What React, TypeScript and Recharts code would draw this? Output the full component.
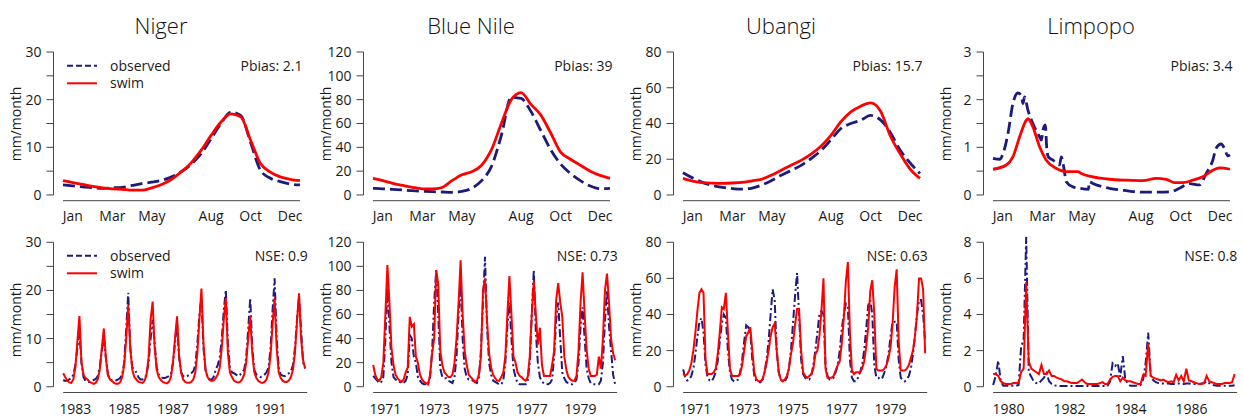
import React from "react";
import { LineChart, Line, XAxis, YAxis, ReferenceLine } from "recharts";

const OBS = "#1b1b7d";
const SWIM = "#ff0000";
const AXIS = "#444";
const TEXT = "#1a1a1a";
const FONT = "'Open Sans', 'Noto Sans', sans-serif";
const FS = 14;

const basins = ["Niger", "Blue Nile", "Ubangi", "Limpopo"];
const pbias = ["2.1", "39", "15.7", "3.4"];
const nse = ["0.9", "0.73", "0.63", "0.8"];
const startYears = [1983, 1971, 1971, 1980];
const labelYears = [
  [1983, 1985, 1987, 1989, 1991],
  [1971, 1973, 1975, 1977, 1979],
  [1971, 1973, 1975, 1977, 1979],
  [1980, 1982, 1984, 1986],
];
const yMaxTop = [30, 120, 80, 3];
const yMaxBottom = [30, 120, 80, 8];
const yStepTop = [5, 20, 20, 0.5];
const yStepBottom = [5, 20, 20, 2];
const yLabelEveryTop = [10, 20, 20, 1];
const yLabelEveryBottom = [10, 20, 20, 2];

// month axis of the climatology panels
const monthNames = ["Jan", "Mar", "May", "Aug", "Oct", "Dec"];
const monthNameIdx = [0, 2, 4, 7, 9, 11];
const halfMonths = [0, 0.5, 1, 1.5, 2, 2.5, 3, 3.5, 4, 4.5, 5, 5.5, 6, 6.5, 7, 7.5, 8, 8.5, 9, 9.5, 10, 10.5, 11, 11.5, 12];

// mean seasonal cycle (mm/month)
const nigerClimObs = [2.1, 1.9, 1.7, 1.5, 1.4, 1.5, 1.6, 2.0, 2.4, 2.7, 3.1, 3.8, 4.9, 6.5, 8.7, 11.8, 15.0, 17.4, 16.7, 11.0, 5.2, 3.5, 2.8, 2.3, 2.1];
const nigerClimSwim = [3.0, 2.6, 2.2, 1.8, 1.5, 1.3, 1.2, 1.0, 1.0, 1.5, 2.2, 3.3, 4.9, 6.8, 9.4, 12.5, 15.3, 17.0, 16.4, 11.5, 6.6, 4.8, 3.8, 3.3, 3.0];
const nileClimObs = [5.6, 5.2, 4.7, 4.2, 3.6, 3.2, 2.8, 2.5, 2.2, 3.0, 5.6, 12, 24, 50, 82, 81, 70, 54, 38, 26, 18, 12, 7.5, 5.3, 5.6];
const nileClimSwim = [14, 12, 9.8, 8, 6.4, 5.2, 5, 6.3, 12, 17, 19.5, 25, 38, 60, 80, 86, 76, 67, 52, 36, 30, 25, 20, 16.5, 14];
const ubangiClimObs = [12.5, 9.5, 6.9, 5.3, 4.3, 3.6, 3.3, 3.9, 5.6, 8.2, 11.2, 13.8, 16.7, 20.5, 25, 31, 37.2, 40, 41.8, 44.5, 42, 35, 25, 18, 12];
const ubangiClimSwim = [9.3, 7.8, 6.9, 6.6, 6.5, 6.7, 7.1, 7.9, 8.9, 11.2, 14, 16.8, 19.5, 23, 27.4, 33.5, 41, 46.5, 49.7, 51.5, 47, 33, 23, 14.5, 9.3];
const limpopoClimObsX = [0, 0.34, 0.51, 0.76, 1.01, 1.26, 1.43, 1.52, 1.6, 1.77, 2.02, 2.36, 2.45, 2.53, 2.65, 2.72, 2.8, 3.04, 3.37, 3.46, 3.58, 3.71, 4.05, 4.4, 4.84, 4.87, 5.06, 5.9, 6.75, 7.59, 8.43, 9.02, 9.44, 9.95, 10.46, 10.79, 11.13, 11.3, 11.55, 11.72, 11.89, 12];
const limpopoClimObs = [0.77, 0.75, 0.87, 1.29, 1.92, 2.14, 2.09, 1.92, 2.06, 1.78, 1.5, 1.22, 1.15, 1.36, 1.47, 1.0, 0.8, 0.73, 0.63, 0.8, 0.59, 0.28, 0.17, 0.14, 0.12, 0.28, 0.24, 0.14, 0.09, 0.06, 0.06, 0.07, 0.14, 0.24, 0.21, 0.45, 0.73, 0.98, 1.07, 0.98, 0.82, 0.84];
const limpopoClimSwimX = [0, 0.67, 1.01, 1.35, 1.69, 1.77, 2.02, 2.36, 2.7, 3.2, 3.71, 4.3, 4.47, 5.06, 5.9, 6.75, 7.59, 8.26, 8.77, 9.19, 9.61, 10.12, 10.62, 11.13, 11.47, 12];
const limpopoClimSwim = [0.54, 0.63, 0.8, 1.22, 1.57, 1.6, 1.43, 1.01, 0.73, 0.56, 0.49, 0.49, 0.45, 0.38, 0.33, 0.31, 0.3, 0.35, 0.33, 0.26, 0.26, 0.31, 0.38, 0.52, 0.57, 0.54];

// monthly series (mm/month), Jan..Dec per row
const nigerObs = [
  1.4, 1.2, 1.3, 1.5, 1.8, 2.5, 4.5, 8.0, 11.2, 5.0, 2.0, 1.2,
  1.0, 1.0, 1.2, 1.4, 1.6, 2.2, 4.0, 7.5, 10.4, 6.0, 2.5, 1.5,
  1.3, 1.2, 1.3, 1.5, 1.8, 2.5, 5.0, 12.0, 19.5, 8.0, 4.0, 3.5,
  3.0, 2.0, 1.5, 1.5, 1.8, 2.5, 5.0, 10.0, 13.9, 9.0, 4.0, 2.5,
  2.0, 1.8, 1.8, 2.0, 2.2, 2.6, 5.0, 9.0, 13.5, 6.0, 3.0, 2.2,
  2.0, 2.2, 2.5, 2.8, 3.2, 4.5, 9.0, 15.0, 18.6, 8.0, 3.5, 2.0,
  1.5, 1.5, 2.0, 3.5, 4.5, 6.0, 10.0, 16.0, 20.1, 9.0, 4.0, 3.0,
  2.8, 2.5, 2.2, 2.5, 3.0, 3.5, 6.0, 12.0, 18.4, 8.0, 3.5, 2.5,
  2.2, 2.0, 2.2, 2.5, 3.0, 4.0, 8.0, 16.0, 22.5, 10.0, 4.0, 2.5,
  2.3, 2.2, 2.5, 2.8, 3.2, 4.5, 8.0, 14.0, 18.6, 12.0, 5.0, 3.8,
];
const nigerSwim = [
  2.8, 2.0, 1.3, 0.9, 0.8, 1.5, 4.0, 9.5, 14.7, 5.0, 2.5, 1.8,
  1.5, 1.0, 0.8, 0.6, 0.8, 1.5, 3.5, 8.0, 12.1, 6.0, 2.5, 1.5,
  1.2, 0.8, 0.6, 0.6, 0.9, 2.0, 4.5, 10.0, 17.0, 8.0, 3.5, 2.0,
  1.5, 1.0, 0.9, 0.8, 1.2, 2.5, 6.0, 14.0, 17.7, 8.0, 3.5, 2.0,
  1.4, 1.0, 0.8, 0.7, 1.0, 2.0, 5.0, 10.0, 14.6, 6.5, 3.0, 1.5,
  1.0, 0.8, 0.8, 1.0, 1.5, 3.0, 7.0, 14.0, 20.4, 9.0, 3.5, 2.0,
  1.4, 1.2, 1.3, 1.8, 2.5, 4.0, 8.0, 14.0, 18.4, 7.0, 3.0, 2.0,
  1.3, 1.0, 0.9, 1.0, 1.5, 2.5, 5.0, 10.0, 14.7, 7.0, 3.0, 1.8,
  1.2, 0.9, 0.8, 1.0, 1.5, 3.0, 6.5, 13.0, 18.4, 8.0, 3.0, 1.8,
  1.2, 1.0, 1.0, 1.3, 2.0, 3.5, 7.0, 13.5, 19.4, 10.0, 5.5, 3.8,
];
const nileObs = [
  9, 7, 5, 3, 4, 8, 40, 82, 50, 20, 8, 6,
  5, 4, 3, 3, 5, 10, 43, 40, 25, 20, 8, 5,
  3, 2, 2, 2, 8, 30, 70, 97, 60, 15, 8, 7,
  7, 5, 4, 3, 8, 25, 60, 87, 40, 15, 8, 6,
  6, 5, 4, 3, 8, 30, 70, 108, 50, 20, 10, 5,
  4, 3, 2, 2, 5, 20, 50, 70, 40, 15, 8, 3,
  2, 2, 2, 2, 5, 20, 60, 97, 45, 20, 8, 4,
  3, 2, 2, 3, 6, 25, 55, 70, 40, 12, 7, 4,
  3, 2, 2, 3, 6, 20, 50, 66, 40, 15, 7, 3,
  2, 2, 2, 2, 5, 20, 55, 80, 50, 30, 10, 2,
];
const nileSwim = [
  18, 10, 6, 5, 8, 20, 60, 101, 70, 32, 18, 10,
  7, 5, 4, 6, 12, 16, 58, 50, 52, 25, 20, 10,
  6, 4, 3, 2, 10, 28, 40, 97, 85, 30, 18, 12,
  10, 8, 8, 10, 20, 40, 70, 105, 60, 30, 18, 10,
  8, 6, 4, 5, 10, 25, 80, 90, 55, 28, 16, 10,
  7, 5, 5, 8, 12, 25, 60, 92, 60, 25, 20, 12,
  9, 8, 6, 5, 8, 25, 60, 88, 60, 35, 49, 18,
  9, 9, 9, 9, 18, 30, 72, 86, 70, 58, 25, 14,
  8, 6, 5, 5, 9, 30, 70, 95, 60, 30, 15, 9,
  9, 9, 10, 25, 15, 40, 80, 94, 70, 40, 28, 22,
];
const ubangiObs = [
  9.6, 5, 3.5, 4, 6, 10, 18, 28, 36, 38, 30, 12,
  5, 3.5, 3, 5, 8, 14, 25, 35, 40, 38, 20, 8,
  4, 3, 3, 4, 8, 15, 25, 34, 33, 30, 15, 6,
  3, 2.5, 2.5, 4, 8, 15, 25, 40, 54, 48, 20, 8,
  4, 3, 3, 5, 10, 20, 35, 50, 63, 40, 15, 7,
  5, 4, 4, 6, 12, 20, 30, 40, 42, 40, 12, 6,
  4, 4, 5, 8, 12, 20, 32, 40, 46, 44, 15, 5,
  3, 3, 5, 8, 12, 20, 32, 45, 48, 40, 12, 5,
  5, 4, 5, 8, 12, 18, 28, 36, 36, 36, 15, 5,
  4, 3, 4, 6, 10, 18, 28, 40, 48, 48, 40, 25,
];
const ubangiSwim = [
  7.4, 6, 7, 9, 13, 20, 30, 42, 52, 54, 52, 15,
  7, 7, 7, 8, 10, 18, 30, 44, 43, 52, 30, 10,
  6, 6, 6, 6, 7, 12, 20, 28, 30, 33, 20, 8,
  4, 3, 3, 4, 8, 13, 20, 28, 33, 35, 20, 8,
  4, 3, 4, 6, 10, 18, 24, 34, 43, 43, 20, 8,
  6, 5, 6, 7, 10, 18, 20, 28, 42, 60, 10, 5,
  5, 5, 6, 9, 12, 14, 24, 38, 58, 69, 30, 9,
  7, 8, 8, 8, 10, 14, 22, 33, 53, 59, 40, 10,
  9, 9, 9, 10, 12, 16, 22, 35, 55, 65, 25, 9,
  9, 9, 10, 12, 16, 20, 28, 40, 60, 60, 54, 18.5,
];
const limpopoObs = [
  0.1, 0.6, 1.45, 0.3, 0.05, 0.05, 0.05, 0.05, 0.05, 0.05, 0.1, 2.2,
  2.6, 8.3, 0.8, 0.55, 0.28, 0.2, 0.18, 0.35, 0.5, 0.75, 0.3, 0.15,
  0.08, 0.05, 0.04, 0.04, 0.04, 0.04, 0.04, 0.04, 0.04, 0.04, 0.04, 0.04,
  0.04, 0.04, 0.04, 0.04, 0.04, 0.04, 0.04, 0.04, 0.04, 0.05, 0.3, 1.3,
  1.15, 1.3, 0.55, 1.7, 0.4, 0.15, 0.05, 0.05, 0.05, 0.05, 0.1, 0.4,
  1.3, 3.0, 0.6, 0.35, 0.25, 0.2, 0.18, 0.18, 0.18, 0.18, 0.15, 0.15,
  0.18, 0.18, 0.15, 0.15, 0.18, 0.18, 0.15, 0.15, 0.15, 0.15, 0.18, 0.2,
  0.3, 0.2, 0.1, 0.08, 0.06, 0.05, 0.05, 0.05, 0.05, 0.05, 0.05, 0.08,
];
const limpopoSwim = [
  0.7, 0.7, 0.6, 0.3, 0.2, 0.15, 0.15, 0.15, 0.2, 0.2, 0.2, 0.8,
  1.0, 5.8, 1.4, 1.0, 0.9, 0.8, 0.7, 1.2, 0.7, 0.7, 0.9, 0.6,
  0.6, 0.5, 0.45, 0.4, 0.3, 0.3, 0.25, 0.2, 0.2, 0.2, 0.3, 0.4,
  0.25, 0.15, 0.15, 0.15, 0.15, 0.15, 0.2, 0.25, 0.15, 0.15, 0.4, 0.55,
  0.6, 0.6, 0.3, 0.5, 0.35, 0.3, 0.3, 0.25, 0.2, 0.15, 0.15, 0.65,
  0.6, 2.4, 0.6, 0.5, 0.45, 0.4, 0.35, 0.4, 0.3, 0.25, 0.3, 0.25,
  0.65, 0.35, 0.6, 0.3, 1.0, 0.35, 0.3, 0.25, 0.2, 0.15, 0.15, 0.2,
  0.6, 0.3, 0.25, 0.2, 0.15, 0.15, 0.15, 0.2, 0.2, 0.2, 0.25, 0.7,
];

type Pt = { x: number; y: number };
const toPts = (xs: number[], ys: number[]): Pt[] => ys.map((y, i) => ({ x: xs[i], y }));
const monthly = (start: number, ys: number[]): Pt[] => ys.map((y, i) => ({ x: start + i / 12, y }));
const range = (a: number, b: number, step: number) => {
  const out: number[] = [];
  for (let v = a; v <= b + 1e-9; v += step) out.push(Math.round(v * 1000) / 1000);
  return out;
};

const climObs: Pt[][] = [
  toPts(halfMonths, nigerClimObs),
  toPts(halfMonths, nileClimObs),
  toPts(halfMonths, ubangiClimObs),
  toPts(limpopoClimObsX, limpopoClimObs),
];
const climSwim: Pt[][] = [
  toPts(halfMonths, nigerClimSwim),
  toPts(halfMonths, nileClimSwim),
  toPts(halfMonths, ubangiClimSwim),
  toPts(limpopoClimSwimX, limpopoClimSwim),
];
const seriesObs = [nigerObs, nileObs, ubangiObs, limpopoObs].map((s, i) => monthly(startYears[i], s));
const seriesSwim = [nigerSwim, nileSwim, ubangiSwim, limpopoSwim].map((s, i) => monthly(startYears[i], s));

type PanelProps = {
  left: number;
  top: number;
  height: number;
  plotTop: number;
  plotBottom: number;
  pxPerUnit: number;
  xMin: number;
  xMax: number;
  xTicks: number[];
  xLabelTicks: number[];
  xLabel: (v: number) => string;
  labelGap: number;
  yMax: number;
  yStep: number;
  yLabelEvery: number;
  obs: Pt[];
  swim: Pt[];
  curve: "monotone" | "linear";
  dash: string;
  lineWidth: number;
  title?: string;
  note: string;
  legend: boolean;
  yLabelY: number;
};

function Panel(p: PanelProps) {
  const padX = 0.04 * (p.xMax - p.xMin);
  const d0 = p.xMin - padX;
  const d1 = p.xMax + padX;
  const padY = 0.04 * p.yMax;
  const plotLeft = 53.5;
  const plotWidth = (d1 - d0) * p.pxPerUnit;
  const width = plotLeft + plotWidth + 2;
  const tickAxisH = 7;
  const labelAxisH = 19;
  const marginBottom = p.height - p.plotBottom - tickAxisH - labelAxisH;
  const yTicks = range(0, p.yMax, p.yStep);
  const lastTick = p.xTicks[p.xTicks.length - 1];

  return (
    <div style={{ position: "absolute", left: p.left, top: p.top, width, height: p.height }}>
      <LineChart
        width={width}
        height={p.height}
        margin={{ top: p.plotTop, right: 2, bottom: marginBottom, left: 0.5 }}
        style={{ fontFamily: FONT }}
      >
        <XAxis
          xAxisId="t"
          type="number"
          dataKey="x"
          domain={[d0, d1]}
          allowDataOverflow
          ticks={p.xTicks}
          interval={0}
          tick={false}
          tickSize={7}
          tickLine={{ stroke: AXIS }}
          axisLine={false}
          height={tickAxisH}
        />
        <XAxis
          xAxisId="l"
          type="number"
          dataKey="x"
          domain={[d0, d1]}
          allowDataOverflow
          ticks={p.xLabelTicks}
          interval={0}
          tickFormatter={p.xLabel}
          tick={{ fill: TEXT, fontSize: FS }}
          tickLine={false}
          tickSize={0}
          tickMargin={p.labelGap}
          axisLine={false}
          height={labelAxisH}
        />
        <YAxis
          type="number"
          domain={[-padY, p.yMax + padY]}
          allowDataOverflow
          ticks={yTicks}
          interval={0}
          width={53}
          tickSize={7}
          tickMargin={5}
          tickLine={{ stroke: AXIS }}
          axisLine={false}
          tick={{ fill: TEXT, fontSize: FS }}
          tickFormatter={(v: number) => (Math.abs(v / p.yLabelEvery - Math.round(v / p.yLabelEvery)) < 1e-6 ? String(v) : "")}
        />
        <ReferenceLine
          xAxisId="t"
          segment={[{ x: d0, y: 0 }, { x: d0, y: p.yMax }]}
          stroke={AXIS}
          ifOverflow="visible"
        />
        <ReferenceLine
          xAxisId="t"
          segment={[{ x: p.xTicks[0], y: -padY }, { x: lastTick, y: -padY }]}
          stroke={AXIS}
          ifOverflow="visible"
        />
        <Line
          xAxisId="t"
          data={p.obs}
          dataKey="y"
          type={p.curve}
          stroke={OBS}
          strokeWidth={p.lineWidth}
          strokeDasharray={p.dash}
          dot={false}
          activeDot={false}
          isAnimationActive={false}
        />
        <Line
          xAxisId="t"
          data={p.swim}
          dataKey="y"
          type={p.curve}
          stroke={SWIM}
          strokeWidth={p.lineWidth}
          dot={false}
          activeDot={false}
          isAnimationActive={false}
        />
      </LineChart>
      <svg
        width={width}
        height={p.height}
        style={{ position: "absolute", left: 0, top: 0, pointerEvents: "none", fontFamily: FONT }}
      >
        {p.title && (
          <text x={161} y={34} textAnchor="middle" fontSize={22} fontWeight={300} fill="#111">
            {p.title}
          </text>
        )}
        <text
          x={21}
          y={p.yLabelY}
          transform={`rotate(-90, 21, ${p.yLabelY})`}
          textAnchor="middle"
          fontSize={FS}
          fill={TEXT}
        >
          mm/month
        </text>
        <text x={plotLeft + plotWidth - 7} y={70.5} textAnchor="end" fontSize={FS} fill={TEXT}>
          {p.note}
        </text>
        {p.legend && (
          <g>
            <line x1={67} x2={97} y1={65.7} y2={65.7} stroke={OBS} strokeWidth={2} strokeDasharray="6 3" />
            <line x1={67} x2={97} y1={83.3} y2={83.3} stroke={SWIM} strokeWidth={2} />
            <text x={110} y={70.7} fontSize={FS} fill={TEXT}>observed</text>
            <text x={110} y={88.3} fontSize={FS} fill={TEXT}>swim</text>
          </g>
        )}
      </svg>
    </div>
  );
}

export default function App() {
  const monthBounds = range(0, 12, 1);
  const monthLabelTicks = monthNameIdx.map((m) => m + 0.5);
  const monthLabel = (v: number) => monthNames[monthNameIdx.indexOf(Math.floor(v))] ?? "";

  return (
    <div
      style={{
        position: "absolute",
        left: 0,
        top: 0,
        width: 1243,
        height: 419,
        overflow: "hidden",
        background: "#fff",
        fontFamily: FONT,
      }}
    >
      {basins.map((name, i) => (
        <Panel
          key={`top-${name}`}
          left={i * 310}
          top={0}
          height={230}
          plotTop={46.3}
          plotBottom={200.7}
          pxPerUnit={237 / 12}
          xMin={0}
          xMax={12}
          xTicks={monthBounds}
          xLabelTicks={monthLabelTicks}
          xLabel={monthLabel}
          labelGap={10.5}
          yMax={yMaxTop[i]}
          yStep={yStepTop[i]}
          yLabelEvery={yLabelEveryTop[i]}
          obs={climObs[i]}
          swim={climSwim[i]}
          curve="monotone"
          dash="12 5"
          lineWidth={2.8}
          title={name}
          note={`Pbias: ${pbias[i]}`}
          legend={i === 0}
          yLabelY={124}
        />
      ))}
      {basins.map((name, i) => {
        const start = startYears[i];
        const n = seriesSwim[i].length / 12;
        return (
          <Panel
            key={`bottom-${name}`}
            left={i * 310}
            top={190}
            height={229}
            plotTop={46.5}
            plotBottom={202.5}
            pxPerUnit={244 / n}
            xMin={start}
            xMax={start + (seriesSwim[i].length - 1) / 12}
            xTicks={range(start, start + n, 1)}
            xLabelTicks={labelYears[i].map((y) => y + 0.5)}
            xLabel={(v: number) => String(Math.floor(v))}
            labelGap={12}
            yMax={yMaxBottom[i]}
            yStep={yStepBottom[i]}
            yLabelEvery={yLabelEveryBottom[i]}
            obs={seriesObs[i]}
            swim={seriesSwim[i]}
            curve="linear"
            dash="8 3 2 3"
            lineWidth={2}
            note={`NSE: ${nse[i]}`}
            legend={i === 0}
            yLabelY={130}
          />
        );
      })}
    </div>
  );
}
